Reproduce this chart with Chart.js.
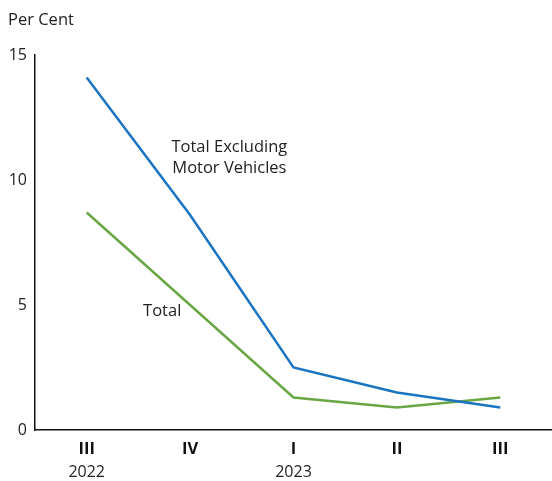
<!DOCTYPE html>
<html>
<head>
<meta charset="utf-8">
<script src="https://cdn.jsdelivr.net/npm/chart.js@4"></script>
<style>
  html, body { margin: 0; padding: 0; background: #fff; }
  #wrap { width: 552px; height: 481px; }
</style>
</head>
<body>
<div id="wrap"><canvas id="chart"></canvas></div>
<script>
const quarters = ['III', 'IV', 'I', 'II', 'III']
const years = ['2022', '', '2023', '', '']
const totalExMotor = [14.1, 8.6, 2.5, 1.5, 0.9]
const total = [8.7, 5.0, 1.3, 0.9, 1.3]
const yTicks = [0, 5, 10, 15]

const FONT = '"Open Sans"'

// series labels and the unit title, placed in data coordinates
const notes = {
  id: 'notes',
  afterDraw(chart) {
    const { ctx, scales } = chart
    const x = scales.x, y = scales.y
    ctx.save()
    ctx.fillStyle = '#222'
    ctx.font = '16.5px ' + FONT
    ctx.textAlign = 'center'
    ctx.textBaseline = 'middle'
    ctx.fillText('Total Excluding', x.getPixelForValue(1.38), y.getPixelForValue(11.3))
    ctx.fillText('Motor Vehicles', x.getPixelForValue(1.38), y.getPixelForValue(10.45))
    ctx.fillText('Total', x.getPixelForValue(0.73), y.getPixelForValue(4.75))
    ctx.textAlign = 'left'
    ctx.fillText('Per Cent', 8, 20)
    ctx.restore()
  }
}

document.addEventListener('DOMContentLoaded', () => {
  const ctx = document.getElementById('chart').getContext('2d')

  new Chart(ctx, {
    type: 'line',
    data: {
      labels: quarters,
      datasets: [
        {
          label: 'Total Excluding Motor Vehicles',
          data: totalExMotor,
          borderColor: '#1a74c2',
          borderWidth: 2.5,
          pointRadius: 0,
          tension: 0,
        },
        {
          label: 'Total',
          data: total,
          borderColor: '#6aa744',
          borderWidth: 2.5,
          pointRadius: 0,
          tension: 0,
        },
      ],
    },
    options: {
      responsive: true,
      maintainAspectRatio: false,
      animation: false,
      layout: { padding: { top: 55, right: 0, left: 0, bottom: 2 } },
      plugins: { legend: { display: false }, tooltip: { enabled: false } },
      scales: {
        x: {
          offset: true,
          afterFit(scale) { scale.height = 27 },
          grid: { display: false, drawTicks: false },
          border: { display: true, color: '#111', width: 1.5 },
          ticks: { color: '#111', font: { family: FONT, size: 16.5, weight: 'bold' }, padding: 9 },
        },
        x2: {
          type: 'category',
          labels: years,
          offset: true,
          position: 'bottom',
          afterFit(scale) { scale.height = 22 },
          grid: { display: false, drawTicks: false },
          border: { display: false },
          ticks: { color: '#222', font: { family: FONT, size: 16 }, padding: 6, autoSkip: false, maxRotation: 0 },
        },
        y: {
          min: 0,
          max: 15,
          afterFit(scale) { scale.width = 35 },
          afterBuildTicks(scale) { scale.ticks = yTicks.map(v => ({ value: v })) },
          grid: { display: false, drawTicks: false },
          border: { display: true, color: '#111', width: 1.5 },
          ticks: { color: '#222', font: { family: FONT, size: 16 }, padding: 8 },
        },
      },
    },
    plugins: [notes],
  })
})
</script>
</body>
</html>
